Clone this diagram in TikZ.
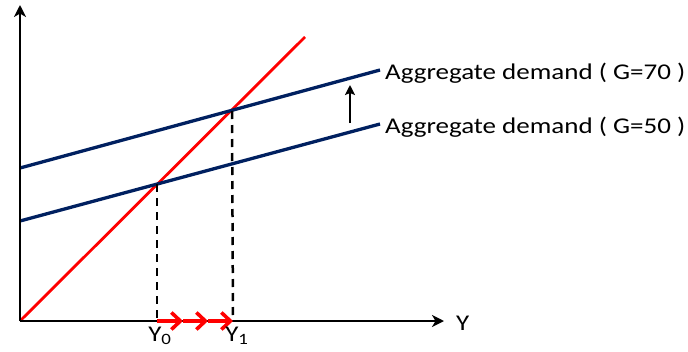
\documentclass[tikz,border=0pt]{standalone}
\usepackage{fontspec}
\setmainfont{Carlito}
\usetikzlibrary{arrows.meta}
\definecolor{navy}{HTML}{002060}
\newcommand{\wide}[1]{\scalebox{1.2}[1]{#1}}
\begin{document}
\begin{tikzpicture}[x=1pt,y=-1pt,
  axis/.style={line width=2.8pt,black,-{Stealth[length=12pt,width=12pt,inset=3.5pt]}},
  adline/.style={line width=3.3pt,navy},
  redline/.style={line width=2.8pt,red},
  guide/.style={line width=2.5pt,black,dash pattern=on 8pt off 6pt},
  redarrow/.style={line width=4pt,red,-{Straight Barb[length=9pt,width=17pt,line width=3.6pt]}},
  lbl/.style={font=\fontsize{22.5}{26}\selectfont,inner sep=0pt}]
\useasboundingbox (0,0) rectangle (688,351);
\coordinate (O) at (20,321);
\coordinate (ytop) at (20,5);
\coordinate (xend) at (444,321);
\coordinate (redend) at (305,37);
\coordinate (a70s) at (20,168);
\coordinate (a70e) at (380,70);
\coordinate (a50s) at (20,221);
\coordinate (a50e) at (380,124);
\coordinate (e0) at (157,184);
\coordinate (e1) at (232,111);
\coordinate (y0) at (157,321);
\coordinate (y1) at (233,321);
\coordinate (m1) at (183,321);
\coordinate (m2) at (208,321);
\coordinate (sb) at (350,123);
\coordinate (st) at (350,85);
\draw[redline] (O) -- (redend);
\draw[adline] (a70s) -- (a70e);
\draw[adline] (a50s) -- (a50e);
\draw[guide] (e0) -- (y0);
\draw[guide] (e1) -- (y1);
\draw[axis] (O) -- (ytop);
\draw[axis] (O) -- (xend);
\draw[redarrow] (y0) -- (m1);
\draw[redarrow] (m1) -- (m2);
\draw[redarrow] (m2) -- (y1);
\draw[line width=2.4pt,-{Stealth[length=10pt,width=10pt,inset=2pt]}] (sb) -- (st);
\node[lbl,anchor=west] (l70) at (385,73) {\wide{Aggregate demand ( G=70 )}};
\node[lbl,anchor=west] (l50) at (385,127) {\wide{Aggregate demand ( G=50 )}};
\node[lbl,anchor=west] (ylab) at (456,323) {\wide{Y}};
\node[lbl] (y0lab) at (160,336) {\wide{Y\textsubscript{0}}};
\node[lbl] (y1lab) at (237,336) {\wide{Y\textsubscript{1}}};
\end{tikzpicture}
\end{document}
